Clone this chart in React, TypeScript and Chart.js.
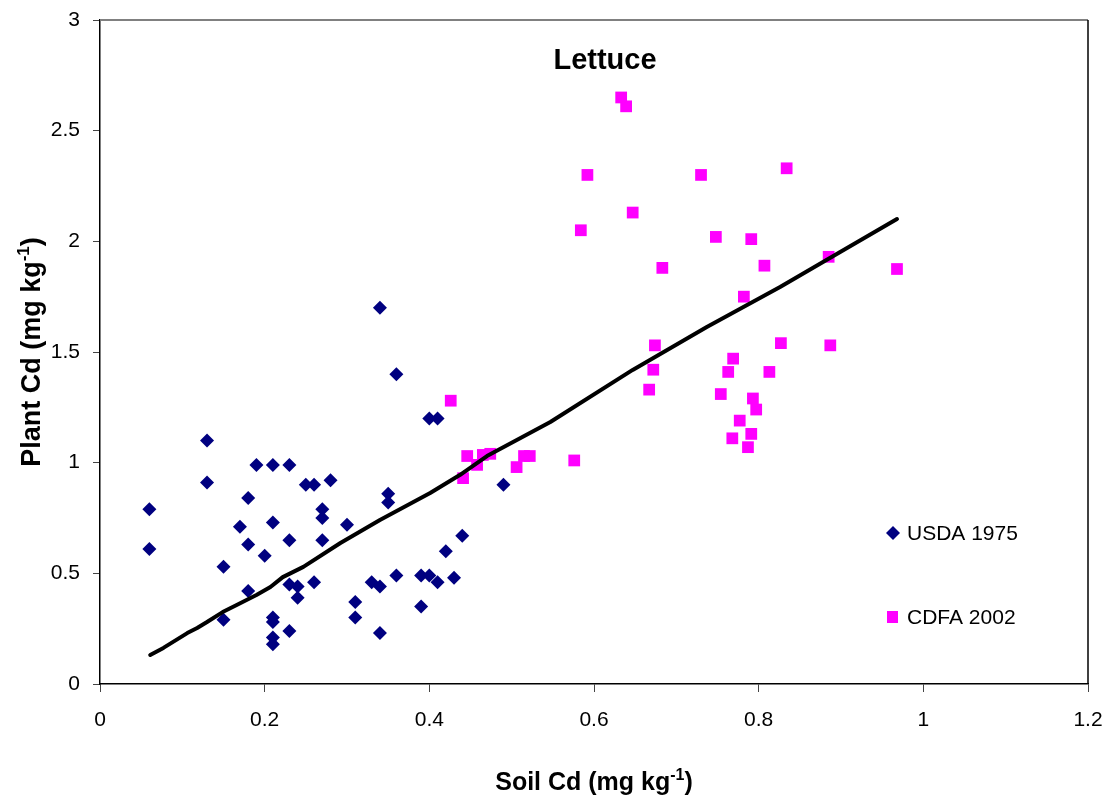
import React, { useEffect, useRef } from 'react';
import { Chart, registerables } from 'chart.js';

Chart.register(...registerables);

const W = 1109;
const H = 799;
const FONT = '"Liberation Sans", Arial, Helvetica, sans-serif';

// ---- data ----
const usdaX = [
  0.06, 0.06, 0.13, 0.13, 0.15, 0.15, 0.17, 0.18, 0.18, 0.18, 0.19, 0.2, 0.21, 0.21, 0.21, 0.21, 0.21, 0.21,
  0.23, 0.23, 0.23, 0.23, 0.24, 0.24, 0.25, 0.26, 0.26, 0.27, 0.27, 0.27, 0.28, 0.3, 0.31, 0.31, 0.33, 0.34,
  0.34, 0.34, 0.35, 0.35, 0.36, 0.36, 0.39, 0.39, 0.4, 0.4, 0.41, 0.41, 0.42, 0.43, 0.44, 0.49,
];
const usdaY = [
  0.79, 0.61, 1.1, 0.91, 0.53, 0.29, 0.71, 0.84, 0.63, 0.42, 0.99, 0.58, 0.99, 0.73, 0.3, 0.28, 0.21, 0.18,
  0.99, 0.65, 0.45, 0.24, 0.44, 0.39, 0.9, 0.9, 0.46, 0.79, 0.75, 0.65, 0.92, 0.72, 0.37, 0.3, 0.46, 0.44,
  0.23, 1.7, 0.86, 0.82, 1.4, 0.49, 0.49, 0.35, 0.49, 1.2, 1.2, 0.46, 0.6, 0.48, 0.67, 0.9,
];

const cdfaX = [
  0.426, 0.446, 0.441, 0.458, 0.465, 0.474, 0.506, 0.515, 0.522, 0.576, 0.584, 0.592, 0.633, 0.639, 0.647,
  0.667, 0.672, 0.674, 0.683, 0.73, 0.748, 0.754, 0.763, 0.768, 0.769, 0.777, 0.782, 0.787, 0.791, 0.791,
  0.793, 0.797, 0.807, 0.813, 0.827, 0.834, 0.885, 0.887, 0.968,
];
const cdfaY = [
  1.28, 1.03, 0.93, 0.99, 1.035, 1.04, 0.98, 1.03, 1.03, 1.01, 2.05, 2.3, 2.65, 2.61, 2.13,
  1.33, 1.42, 1.53, 1.88, 2.3, 2.02, 1.31, 1.41, 1.11, 1.47, 1.19, 1.75, 1.07, 2.01, 1.13,
  1.29, 1.24, 1.89, 1.41, 1.54, 2.33, 1.93, 1.53, 1.875,
];

const trendX = [
  0.061, 0.077, 0.106, 0.118, 0.13, 0.149, 0.166, 0.19, 0.207, 0.222, 0.247, 0.292, 0.34, 0.401, 0.437,
  0.47, 0.547, 0.647, 0.737, 0.826, 0.899, 0.968,
];
const trendY = [
  0.131, 0.163, 0.23, 0.253, 0.28, 0.325, 0.357, 0.402, 0.438, 0.483, 0.529, 0.637, 0.741, 0.863, 0.944,
  1.03, 1.184, 1.419, 1.613, 1.794, 1.952, 2.101,
];

const xTickValues = [0, 0.2, 0.4, 0.6, 0.8, 1, 1.2];
const xTickLabels = ['0', '0.2', '0.4', '0.6', '0.8', '1', '1.2'];
const yTickValues = [0, 0.5, 1, 1.5, 2, 2.5, 3];
const yTickLabels = ['0', '0.5', '1', '1.5', '2', '2.5', '3'];

const chartTitle = 'Lettuce';
const xTitleParts = ['Soil Cd (mg kg', '-1', ')'];
const yTitleParts = ['Plant Cd (mg kg', '-1', ')'];
const seriesNames = ['USDA 1975', 'CDFA 2002'];
const seriesColors = ['#000080', '#FF00FF'];

function drawSupText(ctx: CanvasRenderingContext2D, parts: string[], cx: number, baseline: number, size: number) {
  const big = `bold ${size}px ${FONT}`;
  const small = `bold ${Math.round(size * 0.62)}px ${FONT}`;
  ctx.font = big;
  const w0 = ctx.measureText(parts[0]).width;
  const w2 = ctx.measureText(parts[2]).width;
  ctx.font = small;
  const w1 = ctx.measureText(parts[1]).width;
  const total = w0 + w1 + w2;
  let x = cx - total / 2;
  ctx.textAlign = 'left';
  ctx.textBaseline = 'alphabetic';
  ctx.font = big;
  ctx.fillText(parts[0], x, baseline);
  x += w0;
  ctx.font = small;
  ctx.fillText(parts[1], x, baseline - size * 0.4);
  x += w1;
  ctx.font = big;
  ctx.fillText(parts[2], x, baseline);
}

const decorPlugin = {
  id: 'decor',
  afterDraw(chart: any) {
    const { ctx, chartArea: a } = chart;
    ctx.save();
    // plot frame: grey top, black right
    ctx.strokeStyle = '#808080';
    ctx.lineWidth = 2;
    ctx.beginPath();
    ctx.moveTo(a.left, a.top);
    ctx.lineTo(a.right, a.top);
    ctx.stroke();
    ctx.strokeStyle = '#000';
    ctx.lineWidth = 1.5;
    ctx.beginPath();
    ctx.moveTo(a.right, a.top);
    ctx.lineTo(a.right, a.bottom);
    ctx.stroke();

    ctx.fillStyle = '#000';
    // title
    ctx.font = `bold 29px ${FONT}`;
    ctx.textAlign = 'center';
    ctx.textBaseline = 'alphabetic';
    ctx.fillText(chartTitle, 605, 69);

    // x axis title
    drawSupText(ctx, xTitleParts, (a.left + a.right) / 2, 790, 25);

    // y axis title
    ctx.save();
    ctx.translate(30, (a.top + a.bottom) / 2);
    ctx.rotate(-Math.PI / 2);
    drawSupText(ctx, yTitleParts, 0, 10, 27);
    ctx.restore();

    // legend
    ctx.font = `21px ${FONT}`;
    ctx.textAlign = 'left';
    ctx.textBaseline = 'alphabetic';
    // diamond
    ctx.fillStyle = seriesColors[0];
    ctx.beginPath();
    ctx.moveTo(893, 526);
    ctx.lineTo(900, 533);
    ctx.lineTo(893, 540);
    ctx.lineTo(886, 533);
    ctx.closePath();
    ctx.fill();
    ctx.fillStyle = '#000';
    ctx.fillText(seriesNames[0], 907, 540);
    // square
    ctx.fillStyle = seriesColors[1];
    ctx.fillRect(887, 611, 11, 12);
    ctx.fillStyle = '#000';
    ctx.fillText(seriesNames[1], 907, 624);
    ctx.restore();
  },
};

export default function App() {
  const ref = useRef<HTMLCanvasElement | null>(null);

  useEffect(() => {
    if (!ref.current) return;
    const chart = new Chart(ref.current, {
      type: 'scatter',
      data: {
        datasets: [
          {
            label: 'trend',
            data: trendX.map((x, i) => ({ x, y: trendY[i] })),
            showLine: true,
            borderColor: '#000',
            backgroundColor: '#000',
            borderWidth: 4,
            pointRadius: 0,
            tension: 0,
            borderCapStyle: 'round',
            borderJoinStyle: 'round',
            order: 0,
          } as any,
          {
            label: seriesNames[0],
            data: usdaX.map((x, i) => ({ x, y: usdaY[i] })),
            pointStyle: 'rectRot',
            pointRadius: 7,
            backgroundColor: seriesColors[0],
            borderColor: seriesColors[0],
            borderWidth: 0,
            order: 1,
          },
          {
            label: seriesNames[1],
            data: cdfaX.map((x, i) => ({ x, y: cdfaY[i] })),
            pointStyle: 'rect',
            pointRadius: 8.3,
            backgroundColor: seriesColors[1],
            borderColor: seriesColors[1],
            borderWidth: 0,
            order: 2,
          },
        ],
      },
      options: {
        animation: false,
        responsive: false,
        devicePixelRatio: 1,
        layout: { padding: { top: 20, right: 21, left: 0, bottom: 0 } },
        plugins: { legend: { display: false }, tooltip: { enabled: false } },
        scales: {
          x: {
            type: 'linear',
            min: 0,
            max: 1.2,
            afterBuildTicks: (s: any) => {
              s.ticks = xTickValues.map((v) => ({ value: v }));
            },
            afterFit: (s: any) => {
              s.height = 115;
              s.paddingLeft = 0;
              s.paddingRight = 0;
            },
            ticks: {
              callback: (_v: any, i: number) => xTickLabels[i],
              font: { family: FONT, size: 21 },
              color: '#000',
              padding: 16,
              maxRotation: 0,
            },
            grid: { drawOnChartArea: false, drawTicks: true, tickLength: 8, color: '#444', tickWidth: 1 },
            border: { display: true, color: '#000', width: 1.5 },
          },
          y: {
            type: 'linear',
            min: 0,
            max: 3,
            afterBuildTicks: (s: any) => {
              s.ticks = yTickValues.map((v) => ({ value: v }));
            },
            afterFit: (s: any) => {
              s.width = 100;
              s.paddingTop = 0;
              s.paddingBottom = 0;
            },
            ticks: {
              callback: (_v: any, i: number) => yTickLabels[i],
              font: { family: FONT, size: 21 },
              color: '#000',
              padding: 13,
            },
            grid: { drawOnChartArea: false, drawTicks: true, tickLength: 7, color: '#444', tickWidth: 1 },
            border: { display: true, color: '#000', width: 1.5 },
          },
        },
      },
      plugins: [decorPlugin],
    });
    return () => chart.destroy();
  }, []);

  return (
    <div style={{ position: 'absolute', left: 0, top: 0, width: W, height: H, background: '#fff' }}>
      <canvas ref={ref} width={W} height={H} style={{ display: 'block' }} />
    </div>
  );
}
